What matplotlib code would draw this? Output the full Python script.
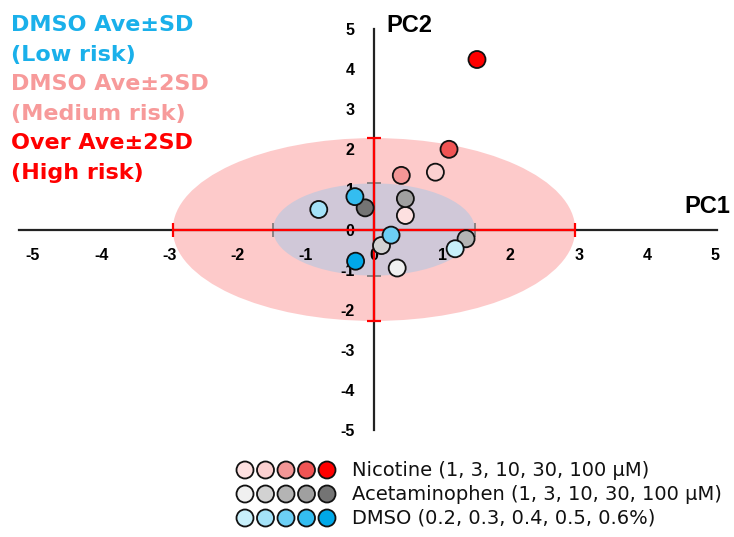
import matplotlib.pyplot as plt
from matplotlib.patches import Ellipse

# PCA scores (order: lowest -> highest concentration)
nic_x = [0.46, 0.90, 0.40, 1.10, 1.51]
nic_y = [0.35, 1.43, 1.35, 2.00, 4.24]
ace_x = [0.34, 0.11, 1.35, 0.46, -0.13]
ace_y = [-0.96, -0.40, -0.23, 0.77, 0.54]
dmso_x = [1.19, -0.81, 0.25, -0.28, -0.27]
dmso_y = [-0.48, 0.50, -0.14, 0.82, -0.79]

nic_colors = ['#fde0e0', '#fbd0d0', '#f39696', '#f05454', '#ff0000']
ace_colors = ['#f0f0f0', '#d2d2d2', '#b4b4b4', '#a0a0a0', '#747474']
dmso_colors = ['#c8f0fb', '#a4e2f8', '#6ccff5', '#34bdf0', '#00a8e8']

# DMSO mean +- SD and +- 2SD extents
sd_x, sd_y = 1.48, 1.15
sd2_x, sd2_y = 2.95, 2.28

ticks = list(range(-5, 6))

legend_names = ['Nicotine (1, 3, 10, 30, 100 μM)',
                'Acetaminophen (1, 3, 10, 30, 100 μM)',
                'DMSO (0.2, 0.3, 0.4, 0.5, 0.6%)']
risk_lines = [('DMSO Ave±SD', '#1ab0ea'), ('(Low risk)', '#1ab0ea'),
              ('DMSO Ave±2SD', '#f79a9a'), ('(Medium risk)', '#f79a9a'),
              ('Over Ave±2SD', '#ff0000'), ('(High risk)', '#ff0000')]

plt.rcParams['font.family'] = ['DejaVu Sans', 'Noto Sans CJK JP']

fig = plt.figure(figsize=(7.34, 5.37), dpi=100)
ax = fig.add_axes([0.0357, 0.1918, 0.9477, 0.7616])
ax.set_xlim(-5.1, 5.1)
ax.set_ylim(-5.1, 5.1)

ax.add_patch(Ellipse((0, 0), 2 * sd2_x, 2 * sd2_y, color='#fdcaca', lw=0, zorder=0.5))
ax.add_patch(Ellipse((0, 0), 2 * sd_x, 2 * sd_y, color='#d0c8d8', lw=0, zorder=0.6))

ax.errorbar([0], [0], xerr=sd_x, yerr=sd_y, fmt='none', ecolor='#777777',
            elinewidth=1.2, capsize=5, capthick=1.2, zorder=2.8)
ax.errorbar([0], [0], xerr=sd2_x, yerr=sd2_y, fmt='none', ecolor='#ff0000',
            elinewidth=1.6, capsize=5, capthick=1.6, zorder=3)

for xs, ys, cs in [(nic_x, nic_y, nic_colors), (ace_x, ace_y, ace_colors),
                   (dmso_x, dmso_y, dmso_colors)]:
    ax.scatter(xs, ys, s=150, c=cs, edgecolors='#111111', linewidths=1.3, zorder=4)

for side in ['top', 'right']:
    ax.spines[side].set_visible(False)
ax.spines['left'].set_position(('data', 0))
ax.spines['bottom'].set_position(('data', 0))
ax.spines['left'].set_bounds(-5, 5)
ax.spines['bottom'].set_bounds(-5.2, 5.03)
for side in ['left', 'bottom']:
    ax.spines[side].set_linewidth(1.6)
    ax.spines[side].set_color('#222222')
    ax.spines[side].set_zorder(2)

ax.set_xticks(ticks)
ax.set_yticks(ticks)
ax.set_xticklabels([str(t) for t in ticks])
ax.set_yticklabels([str(t) for t in ticks])
ax.tick_params(length=0, labelsize=11.5)
ax.tick_params(axis='x', pad=13)
ax.tick_params(axis='y', pad=14)
for lab in ax.get_xticklabels() + ax.get_yticklabels():
    lab.set_fontweight('bold')
    lab.set_family('Liberation Sans')
ax.patch.set_alpha(0)

ax.text(4.55, 0.57, 'PC1', fontsize=17, fontweight='bold', family='Liberation Sans',
        ha='left', va='center')
ax.text(0.18, 5.1, 'PC2', fontsize=17, fontweight='bold', family='Liberation Sans',
        ha='left', va='center')

# overlay axes in pixel units for the annotation text and the legend
ov = fig.add_axes([0, 0, 1, 1], zorder=5)
ov.set_xlim(0, 734)
ov.set_ylim(537, 0)
ov.axis('off')

for i, (txt, col) in enumerate(risk_lines):
    ov.text(11, 25 + i * 29.6, txt, color=col, fontsize=16, fontweight='bold',
            ha='left', va='center')

for row, (name, cs) in enumerate(zip(legend_names, [nic_colors, ace_colors, dmso_colors])):
    yy = 470 + row * 24
    ov.scatter([245 + k * 20.5 for k in range(5)], [yy] * 5, s=150, c=cs,
               edgecolors='#111111', linewidths=1.3)
    ov.text(352, yy, name, fontsize=14, ha='left', va='center', color='#111111')

fig.savefig('out.png', dpi=100)
